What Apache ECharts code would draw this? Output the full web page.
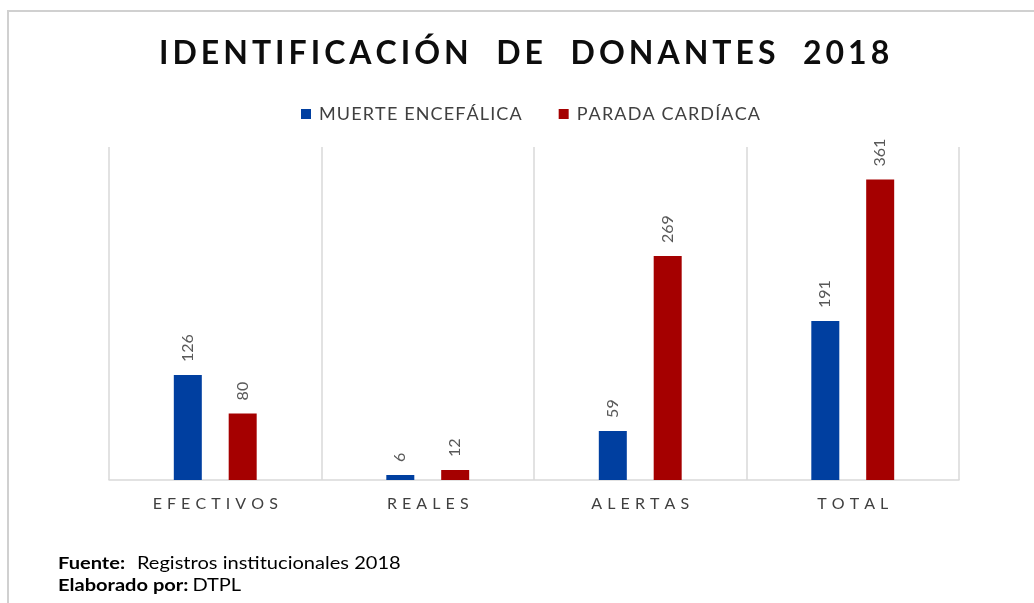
<!DOCTYPE html>
<html>
<head>
<meta charset="utf-8">
<script src="https://cdn.jsdelivr.net/npm/echarts@6/dist/echarts.min.js"></script>
<style>
html,body{margin:0;padding:0;background:#fff;}
#chart{width:1034px;height:603px;}
</style>
</head>
<body>
<div id="chart"></div>
<script>
const categories = ['EFECTIVOS', 'REALES', 'ALERTAS', 'TOTAL'];
const seriesNames = ['MUERTE ENCEFÁLICA', 'PARADA CARDÍACA'];
const muerteEncefalica = [126, 6, 59, 191];
const paradaCardiaca = [80, 12, 269, 361];
const titleText = 'IDENTIFICACIÓN  DE  DONANTES  2018';
const sourceLabel = 'Fuente:';
const sourceText = 'Registros institucionales 2018';
const authorLabel = 'Elaborado por:';
const authorText = 'DTPL';

const FONT = 'Lato, "Open Sans", sans-serif';
const spaced = (s, sep) => s.split('').join(sep);
const chart = echarts.init(document.getElementById('chart'));

const labelCfg = {
  show: true,
  position: 'top',
  rotate: 90,
  align: 'left',
  verticalAlign: 'middle',
  distance: 13,
  color: '#595959',
  fontFamily: FONT,
  fontSize: 16
};

chart.setOption({
  backgroundColor: '#ffffff',
  animation: false,
  title: {
    text: spaced(titleText, '\u2009'),
    left: 154,
    top: 33,
    textStyle: {
      fontFamily: FONT,
      fontWeight: 'bold',
      fontSize: 32,
      color: '#0d0d0d'
    }
  },
  legend: {
    data: seriesNames,
    top: 100,
    left: 296,
    itemWidth: 10,
    itemHeight: 10,
    itemGap: 37,
    icon: 'rect',
    formatter: name => spaced(name, '\u200A'),
    textStyle: { fontFamily: FONT, fontSize: 18, color: '#404040', padding: [0, 0, 0, 3] }
  },
  grid: { left: 109, right: 75, top: 147, bottom: 123, containLabel: false },
  xAxis: {
    type: 'category',
    data: categories,
    axisLine: { show: true, lineStyle: { color: '#d9d9d9', width: 1.5 } },
    axisTick: { show: false },
    splitLine: { show: true, lineStyle: { color: '#d9d9d9', width: 1.5 } },
    axisLabel: {
      margin: 16,
      color: '#404040',
      fontFamily: FONT,
      fontSize: 16,
      formatter: v => spaced(v, ' \u200A')
    }
  },
  yAxis: {
    type: 'value',
    min: 0,
    max: 400,
    show: false,
    splitLine: { show: false }
  },
  series: [
    {
      name: seriesNames[0],
      type: 'bar',
      data: muerteEncefalica,
      barWidth: 28,
      barGap: '96%',
      itemStyle: { color: '#003fa0' },
      label: labelCfg
    },
    {
      name: seriesNames[1],
      type: 'bar',
      data: paradaCardiaca,
      barWidth: 28,
      barGap: '96%',
      itemStyle: { color: '#a50000' },
      label: labelCfg
    }
  ],
  graphic: [
    {
      type: 'polyline',
      shape: { points: [[8, 603], [8, 11], [1034, 11]] },
      style: { stroke: '#d0d0d0', lineWidth: 2, fill: null },
      silent: true
    },
    {
      type: 'text',
      x: 58,
      y: 553,
      scaleX: 1.18,
      style: {
        text: '{b|' + sourceLabel + '}   {n|' + sourceText + '}\n{b|' + authorLabel + '} {n|' + authorText + '}',
        rich: {
          b: { fontFamily: FONT, fontWeight: 'bold', fontSize: 17, color: '#000', lineHeight: 22 },
          n: { fontFamily: FONT, fontSize: 17, color: '#000', lineHeight: 22 }
        }
      }
    }
  ]
});
</script>
</body>
</html>
